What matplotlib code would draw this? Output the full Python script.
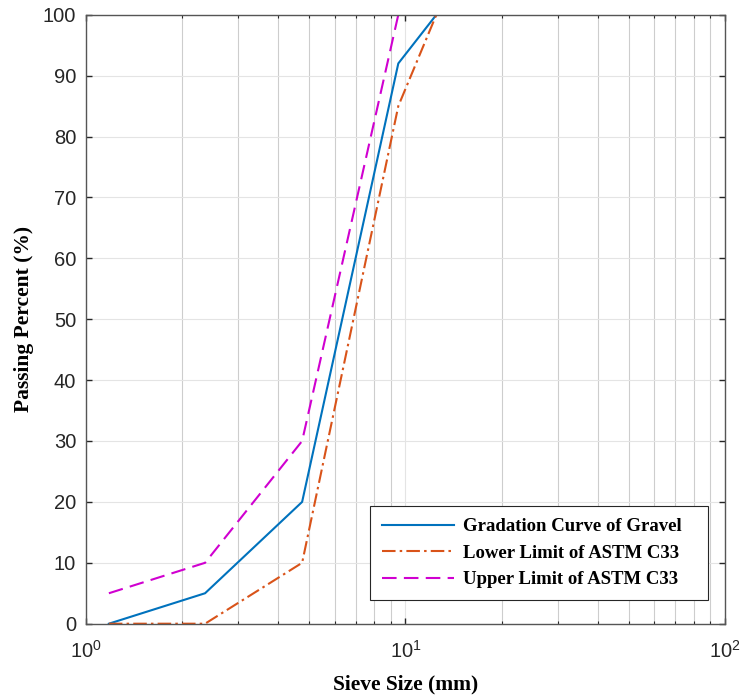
import matplotlib
matplotlib.use("Agg")
import matplotlib.pyplot as plt
from matplotlib.ticker import LogLocator, FixedLocator

# sieve sizes (mm) and passing percentages
sieve = [1.18, 2.36, 4.75, 9.5, 12.5]
gravel = [0, 5, 20, 92, 100]
lower = [0, 0, 10, 85, 100]
upper = [5, 10, 30, 100, 100]

plt.rcParams['font.family'] = ['Liberation Sans', 'DejaVu Sans']
plt.rcParams['mathtext.fontset'] = 'custom'
plt.rcParams['mathtext.rm'] = 'Liberation Sans'
plt.rcParams['mathtext.it'] = 'Liberation Sans'

fig = plt.figure(figsize=(7.47, 7.0), dpi=100)
ax = fig.add_axes([0.115, 0.109, 0.8555, 0.870])

ax.plot(sieve, gravel, '-', color='#0072BD', lw=1.5, label='Gradation Curve of Gravel')
ax.plot(sieve, lower, '-.', color='#D95319', lw=1.5, dashes=(6.5, 2, 1.2, 2),
        label='Lower Limit of ASTM C33')
ax.plot(sieve, upper, '--', color='#D000D0', lw=1.5, dashes=(7, 3.5),
        label='Upper Limit of ASTM C33')

ax.set_xscale('log')
ax.set_xlim(1, 100)
ax.set_ylim(0, 100)
ax.yaxis.set_major_locator(FixedLocator(range(0, 101, 10)))
ax.xaxis.set_minor_locator(LogLocator(base=10, subs=range(2, 10)))

ax.grid(True, which='major', color='#e4e4e4', lw=0.8)
ax.grid(True, which='minor', axis='x', color='#cdcdcd', lw=0.8)
ax.set_axisbelow(True)

for s in ax.spines.values():
    s.set_color('#555555')
    s.set_linewidth(1.0)
ax.tick_params(which='both', direction='in', top=True, right=True, colors='#262626', labelsize=14.5)
ax.tick_params(which='major', length=4.3, width=1.0)
ax.tick_params(which='minor', length=2.2, width=0.8)
ax.tick_params(axis='x', pad=12)
ax.tick_params(axis='y', pad=7)

serif = ['Liberation Serif', 'DejaVu Serif']
ax.set_xlabel('Sieve Size (mm)', family=serif, fontweight='bold', fontsize=15.5, labelpad=9)
ax.set_ylabel('Passing Percent (%)', family=serif, fontweight='bold', fontsize=15.5, labelpad=6)

# expand mode keeps the MATLAB-like wide box with extra room on the right
leg = ax.legend(loc='lower left', bbox_to_anchor=(0.4444, 0.0394, 0.529, 0.2), mode='expand',
                borderaxespad=0, prop={'family': serif, 'weight': 'bold', 'size': 13.5},
                fancybox=False, edgecolor='#262626', framealpha=1, handlelength=3.85,
                handletextpad=0.5, labelspacing=0.5, borderpad=0.62)
leg.get_frame().set_linewidth(0.8)

fig.savefig('out.png', dpi=100)
